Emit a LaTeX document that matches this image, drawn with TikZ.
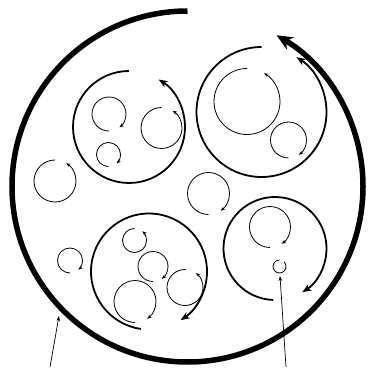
\documentclass[tikz,border=0pt]{standalone}
\usepackage{tikz}
\usetikzlibrary{arrows.meta}

\begin{document}
\begin{tikzpicture}[x=1pt,y=1pt,
  outer/.style={line width=5.5pt,-{Stealth[length=16pt,width=14pt,inset=5pt]}},
  grp/.style={line width=1.8pt,-{Stealth[length=9pt,width=7pt,inset=2.5pt]}},
  cell/.style={line width=0.8pt,-{Stealth[length=4.5pt,width=3.5pt,inset=1.5pt]}},
  ptr/.style={line width=0.7pt,-{Stealth[length=5pt,width=3.5pt,inset=1.5pt]}}]
\useasboundingbox (0,0) rectangle (369,367);
% outer body
\draw[outer] (187.5,180.5) ++(90:175.5pt) arc[start angle=90,end angle=419.5,radius=175.5pt];
% the four groups
\foreach \x/\y/\r/\a/\b in {129/240/56/90/418, 261.5/255/65/90/417.5,
    149/95.5/58/262/-57, 275/118.5/51.5/268/-58}
  \draw[grp] (\x,\y) ++(\a:\r pt) arc[start angle=\a,end angle=\b,radius=\r pt];
% small cycles
\foreach \x/\y/\r/\a/\b in {109/253/17/270/-52, 108.5/212.5/12/270/-48, 161.5/239/20.5/90/417,
    247/265.5/33/90/419, 288.5/227/18/270/-55,
    134.5/126.5/12/90/410, 153/100.5/15/270/-55, 135/65.5/21/270/-55, 185/79.5/18/87/413,
    270/140/20.5/270/-55,
    55/186/21/90/418, 70/106.5/12.5/270/-48, 208.5/173.5/21/270/-55}
  \draw[cell] (\x,\y) ++(\a:\r pt) arc[start angle=\a,end angle=\b,radius=\r pt];
\draw[line width=0.8pt] (279.5,100.5) ++(90:6.5pt) arc[start angle=90,end angle=405,radius=6.5pt];
% pointers
\coordinate (pl0) at (50,0);
\coordinate (pl1) at (59,51);
\coordinate (pr0) at (286,0);
\coordinate (pr1) at (280,91);
\draw[ptr] (pl0) -- (pl1);
\draw[ptr] (pr0) -- (pr1);
\end{tikzpicture}
\end{document}
